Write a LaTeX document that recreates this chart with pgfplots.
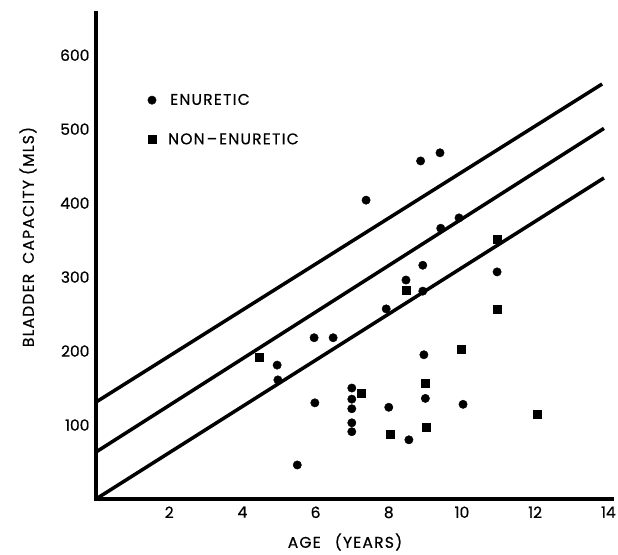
\documentclass[border=0pt]{standalone}
\usepackage{fontspec}
\setmainfont{Poppins}[FakeBold=0.6]
\newfontfamily\spaced{Poppins}[LetterSpace=8, FakeBold=0.6]
\usepackage{pgfplots}
\pgfplotsset{compat=1.18}

% enuretic (dots) and non-enuretic (squares): age in years, capacity in ml
\pgfplotstableread{
x y
4.95 181
4.97 161
5.50 46
5.96 218
6.48 218
5.98 130
6.99 150
6.99 135
6.99 122
6.99 103
6.99 91
8.00 124
8.55 80
8.96 195
9.00 136
10.03 128
7.93 257
8.47 296
8.93 281
8.93 316
7.38 404
8.87 457
9.40 468
9.42 366
9.92 380
10.96 307
}\enuretic
\pgfplotstableread{
x y
4.45 192
7.24 143
8.03 88
9.00 157
9.03 97
9.99 203
12.05 114
10.96 257
10.96 351
8.47 282
}\nonenuretic

\begin{document}
\begin{tikzpicture}
\begin{axis}[
  at={(0pt,0pt)}, anchor=south west,
  scale only axis, width=516pt, height=486pt,
  xmin=0, xmax=14.1, ymin=0, ymax=657,
  axis lines*=left,
  axis line style={line width=3.5pt, line cap=rect},
  xtick={2,4,...,14}, ytick={100,200,...,600},
  major tick length=0pt,
  tick label style={font=\fontsize{15.5}{17}\selectfont},
  /pgf/number format/assume math mode=true,
  xticklabel style={yshift=-4pt},
  yticklabel style={xshift=-3pt},
  legend style={draw=none, fill=none, at={(rel axis cs:0.1,0.838)},
    anchor=north west, row sep=23pt, inner sep=0pt,
    font=\fontsize{15.5}{17}\spaced},
  legend cell align=left,
  clip=false,
]
\addplot[line width=3.5pt, forget plot] coordinates {(0,131) (13.83,561)};
\addplot[line width=3.5pt, forget plot] coordinates {(0,63.5) (13.88,501)};
\addplot[line width=3.5pt, forget plot] coordinates {(0,0) (13.88,434)};
\addplot[only marks, mark=*, mark size=4.2pt, black] table {\enuretic};
\addlegendentry{\hspace{12pt}ENURETIC}
\addplot[only marks, mark=square*, mark size=4pt, black] table {\nonenuretic};
\addlegendentry{\hspace{10pt}NON\hspace{2pt}–\hspace{2pt}ENURETIC}
\end{axis}
\node[rotate=90, font=\fontsize{15.5}{17}\spaced] at (-68pt,262pt)
  {BLADDER\hspace{10pt}CAPACITY\hspace{5pt}(MLS)};
\node[font=\fontsize{15.5}{17}\spaced] at (249pt,-43pt) {AGE\hspace{14pt}(YEARS)};
\pgfresetboundingbox
\path[use as bounding box] (-96pt,-55pt) rectangle (522pt,499pt);
\end{tikzpicture}
\end{document}
